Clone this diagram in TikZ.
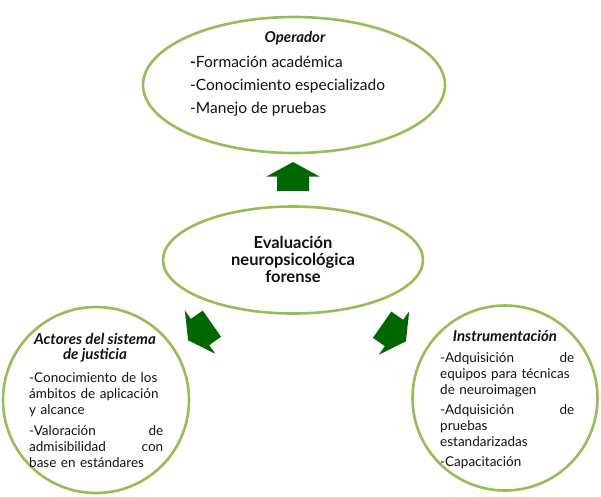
\documentclass[tikz,border=0pt]{standalone}
\usepackage{fontspec}
\setmainfont{Lato}
\usepackage{xcolor}
\usetikzlibrary{shapes.geometric}
\definecolor{rim}{HTML}{9BBB59}
\definecolor{arrowgreen}{HTML}{006600}
\definecolor{ink}{HTML}{111111}
\hyphenpenalty=10000
\tikzset{
  bubble/.style={ellipse, draw=rim, line width=2.6pt, inner sep=0pt},
  title/.style={font=\bfseries\itshape\fontsize{15}{15.5}\selectfont, text=ink, align=center, inner sep=0pt},
  body/.style={font=\fontsize{13.5}{16}\selectfont, text=ink, align=left, inner sep=0pt, anchor=north west},
  blockarrow/.style={fill=arrowgreen}
}
\begin{document}
\begin{tikzpicture}[x=1pt,y=-1pt]
\useasboundingbox (0,0) rectangle (601,496);
% ellipses
\node[bubble, minimum width=302, minimum height=136] (oper) at (294,85) {};
\node[bubble, minimum width=260, minimum height=107] (eval) at (293,260) {};
\node[bubble, minimum width=186, minimum height=186] (actor) at (96,400) {};
\node[bubble, minimum width=185, minimum height=185] (instr) at (505,398) {};
% block arrows
\foreach \px/\py/\ang in {293/176.5/90, 200/332/215, 394/333/-35}
  \fill[blockarrow, shift={(\px,\py)}, rotate=\ang]
    (-14.5,-16) -- (0,-16) -- (0,-26.5) -- (14.5,0) -- (0,26.5) -- (0,16) -- (-14.5,16) -- cycle;
% operador
\node[title] (opertitle) at (295,38) {Operador};
\node[body, font=\fontsize{15.5}{23}\selectfont] (operlist) at (190,56)
  {{\bfseries -}Formación académica\\-Conocimiento especializado\\-Manejo de pruebas};
% centre
\node[font=\bfseries\fontsize{16.5}{17}\selectfont, text=ink, align=center] (evaltext) at (293,259)
  {Evaluación\\neuropsicológica\\forense};
% actores
\node[title] (actortitle) at (95,348) {Actores del sistema\\de justicia};
\node[body, text width=134] (actorlist) at (29,372)
  {-Conocimiento de los\\ámbitos de aplicación\\y alcance\\[5pt]
   -Valoración\hfill de\\admisibilidad\hfill con\\base en estándares};
% instrumentacion
\node[title] (instrtitle) at (505,336) {Instrumentación};
\node[body, text width=134] (instrlist) at (440,352)
  {-Adquisición\hfill de\\equipos para técnicas\\de neuroimagen\\[4pt]
   -Adquisición\hfill de\\pruebas\\estandarizadas\\[4pt]
   -Capacitación};
\end{tikzpicture}
\end{document}
